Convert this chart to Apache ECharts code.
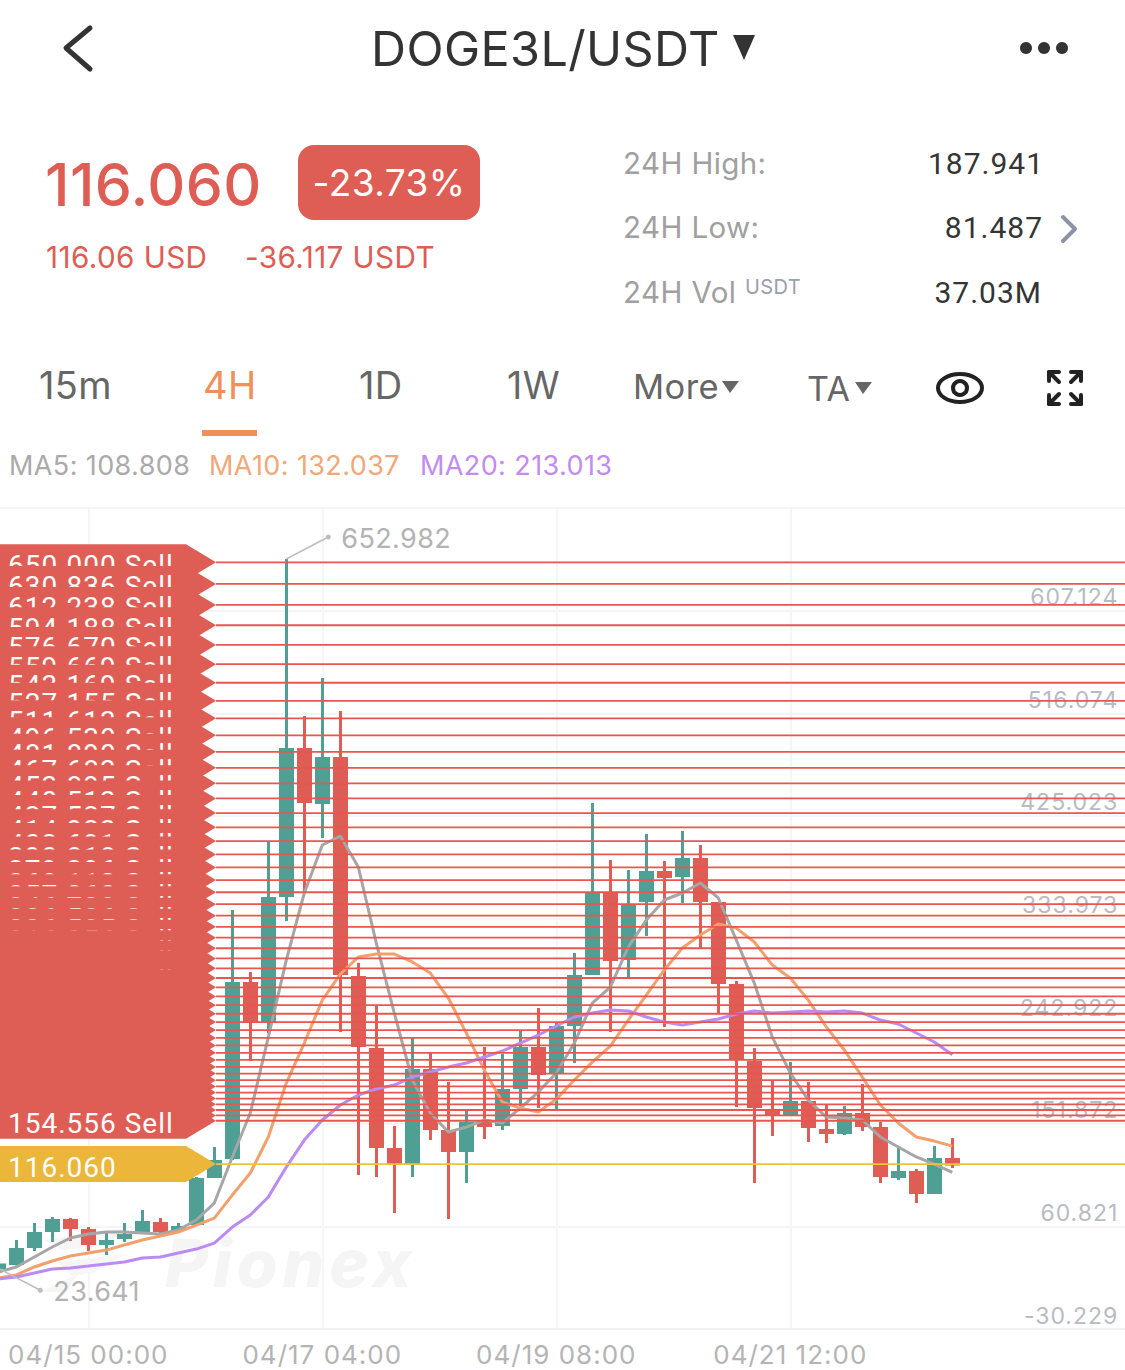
<!DOCTYPE html>
<html><head><meta charset="utf-8">
<style>html,body{margin:0;padding:0;background:#fff}#c{width:1125px;height:1370px}
#c text{letter-spacing:.4px}
#c text[fill="#b4b4b4"],#c text[fill="#b7bbc3"],#c text[fill="#fefefe"],#c text[fill="#343434"]{letter-spacing:1px}
#c text[fill="#f5f5f5"]{letter-spacing:5px}
</style>
<script src="https://cdn.jsdelivr.net/npm/echarts@6/dist/echarts.min.js"></script>
</head><body><div id="c"></div>
<script>
const categories = [
'04/14 04:00','04/14 08:00','04/14 12:00','04/14 16:00','04/14 20:00',
'04/15 00:00','04/15 04:00','04/15 08:00','04/15 12:00','04/15 16:00','04/15 20:00',
'04/16 00:00','04/16 04:00','04/16 08:00','04/16 12:00','04/16 16:00','04/16 20:00',
'04/17 00:00','04/17 04:00','04/17 08:00','04/17 12:00','04/17 16:00','04/17 20:00',
'04/18 00:00','04/18 04:00','04/18 08:00','04/18 12:00','04/18 16:00','04/18 20:00',
'04/19 00:00','04/19 04:00','04/19 08:00','04/19 12:00','04/19 16:00','04/19 20:00',
'04/20 00:00','04/20 04:00','04/20 08:00','04/20 12:00','04/20 16:00','04/20 20:00',
'04/21 00:00','04/21 04:00','04/21 08:00','04/21 12:00','04/21 16:00','04/21 20:00',
'04/22 00:00','04/22 04:00','04/22 08:00','04/22 12:00','04/22 16:00','04/22 20:00',
'04/23 00:00','04/23 04:00','04/23 08:00','04/23 12:00','04/23 16:00','04/23 20:00',
'04/24 00:00','04/24 04:00','04/24 08:00','04/24 12:00','04/24 16:00'];
const xTickLabels = ['04/15 00:00','04/17 04:00','04/19 08:00','04/21 12:00'];
const yTickLabels = ['-30.229','60.821','151.872','242.922','333.973','425.023','516.074','607.124'];
const yMin = -30.229, yMax = 698.2;
// open, close, low, high
const candles = [
[24.2,26.5,23.641,29.2],[27.9,40.3,26.1,48.7],[42.9,54.5,39.0,63.8],[57.1,66.0,46.9,69.1],[66.0,59.8,47.8,68.2],
[57.1,45.6,39.0,60.2],[45.6,47.4,35.4,56.7],[50.9,52.7,46.9,63.8],[57.1,64.2,55.8,75.3],[63.3,57.1,53.1,68.2],
[58.0,59.8,54.9,63.8],[63.3,102.4,61.1,104.6],[105.1,118.4,103.7,131.2],[121.9,276.3,119.7,341.5],[276.3,243.5,207.5,286.5],
[243.5,351.7,232.4,402.7],[354.4,483.9,331.7,652.982],[483.9,437.8,357.5,513.6],[436.9,475.9,405.4,547.3],[475.9,285.2,233.3,518.1],
[281.6,221.3,106.4,294.5],[217.7,131.7,104.6,256.3],[129.0,117.5,72.7,149.9],[117.5,199.1,104.6,228.8],[199.1,147.6,137.4,214.6],
[145.0,128.1,67.3,188.9],[128.1,152.1,99.3,164.1],[153.0,150.3,138.3,219.9],[151.2,181.4,146.3,213.7],[184.0,218.6,167.6,234.1],
[218.6,196.4,165.8,254.6],[197.3,237.3,164.9,241.2],[239.9,282.5,205.8,303.4],[285.2,355.3,283.8,436.4],[356.1,297.6,233.3,385.9],
[298.5,345.5,282.1,377.0],[349.9,374.8,318.4,408.9],[374.8,371.2,237.7,385.0],[372.1,386.3,347.7,411.6],[386.3,349.9,307.8,399.2],
[347.3,277.2,250.1,348.6],[274.5,209.7,166.7,278.5],[206.2,167.2,99.3,219.1],[163.6,161.0,141.0,190.7],[161.0,170.7,159.6,206.6],
[170.7,149.4,135.7,188.9],[145.9,144.1,134.8,168.5],[144.1,160.1,141.9,167.6],[160.1,150.3,145.4,187.1],[147.6,105.9,99.3,153.4],
[105.1,108.6,101.9,130.3],[108.6,90.9,81.487,111.7],[90.9,120.1,89.5,132.1],[120.1,116.06,112.6,139.2]];
const ma5 = [20.3,24.8,33.6,42.5,50.5,54.0,55.8,55.8,54.9,54.0,57.6,66.5,81.5,122.4,161.4,228.8,297.1,356.6,399.2,407.1,379.7,312.2,250.1,190.7,161.4,144.5,148.9,155.2,152.5,165.8,180.0,196.9,223.5,259.0,273.2,308.7,332.6,350.4,356.6,365.5,352.2,314.9,276.7,228.8,196.9,172.9,157.8,156.9,155.2,140.1,131.2,122.4,116.1,108.808];
const ma10 = [15.0,17.7,24.8,30.1,34.5,37.2,39.8,44.3,48.7,52.3,55.8,62.0,68.2,88.6,108.2,140.1,188.0,223.5,261.6,284.7,299.8,302.4,302.4,295.4,285.6,263.4,232.4,199.5,171.2,165.8,162.3,173.7,190.7,206.6,220.8,243.9,266.1,288.3,307.8,319.3,329.1,325.5,313.1,292.7,281.2,261.6,237.7,217.3,193.3,168.5,152.5,140.1,136.5,132.037];
const ma20 = [14.1,15.9,19.4,23.0,23.9,25.6,27.4,29.2,32.7,33.6,37.2,40.7,46.0,60.2,70.9,86.9,113.5,137.4,155.2,168.5,177.4,182.7,186.2,193.3,197.8,202.2,205.8,211.1,216.4,223.5,230.6,238.6,246.6,250.1,252.8,251.9,246.6,242.1,239.5,242.1,244.8,249.2,251.9,250.1,251.0,251.9,251.0,251.9,250.1,243.9,240.4,232.4,224.4,213.013];
const sellOrders = [650.000,630.836,612.238,594.188,576.670,559.669,543.169,527.155,511.613,496.530,481.890,467.683,453.895,440.513,427.527,414.923,402.691,390.818,379.296,368.113,357.260,346.728,336.506,326.585,316.956,307.612,298.543,289.741,281.199,272.909,264.863,257.054,249.476,242.121,234.983,228.055,221.331,214.806,208.473,202.326,196.361,190.572,184.954,179.501,174.209,169.073,164.088,159.250,154.556];
const lastPrice = [116.060];
const extremes = [[16,652.982,-1],[0,23.641,1]];

const FONT = 'Inter, "Noto Sans", sans-serif';
const NUMFONT = 'Roboto, "Noto Sans", sans-serif';
const RED='#de5d54', TEAL='#4f9f94', GOLD='#ecb63a', ORANGE='#f0905a';
function T(text,x,y,size,fill,align,weight,font){
  return {type:'text',silent:true,z:10,style:{text,x,y:y-1,fill,font:(weight||400)+' '+size+'px '+(font||FONT),
    align:align||'left',textAlign:align||'left',verticalAlign:'middle',textVerticalAlign:'middle'}};
}
function P(points,fill,stroke,w,z){
  return {type:stroke?'polyline':'polygon',silent:true,z:z==null?10:z,shape:{points},
    style:stroke?{stroke,lineWidth:w,fill:null,lineCap:'round',lineJoin:'round'}:{fill}};
}
function C(cx,cy,r,fill,stroke,w){
  return {type:'circle',silent:true,z:10,shape:{cx,cy,r},style:stroke?{fill:'none',stroke,lineWidth:w}:{fill}};
}
const chrome = [
  P([[90,28],[66,48],[90,69]],null,'#333',5),
  T('DOGE3L/USDT',371,49,48.5,'#333'),
  P([[733,35],[755,35],[744,60]],'#333'),
  C(1026,48,6,'#333'),C(1044,48,6,'#333'),C(1062,48,6,'#333'),
  T('116.060',45,185,59,RED,'left',500),
  {type:'rect',silent:true,z:10,shape:{x:298,y:145,width:182,height:75,r:16},style:{fill:RED}},
  T('-23.73%',389,183,37,'#fff','center'),
  T('116.06 USD',46,258,29.7,RED),
  T('-36.117 USDT',245,258,29.7,RED),
  T('24H High:',623,164,29.5,'#a0a0a0'),T('187.941',1044,164,30,'#343434','right',400,NUMFONT),
  T('24H Low:',623,228,29.5,'#a0a0a0'),T('81.487',1043,228,30,'#343434','right',400,NUMFONT),
  P([[1063,217],[1075,229],[1063,241]],null,'#8a93a8',4),
  T('24H Vol',623,293,29.5,'#a0a0a0'),T('USDT',745,288,20,'#9aa0ac'),T('37.03M',1042,293,30,'#343434','right',400,NUMFONT),
  T('15m',39,386,38,'#666'),T('4H',203,386,38,ORANGE),T('1D',359,386,38,'#666'),T('1W',507,386,37.5,'#666'),
  T('More',633,387,34.5,'#666'),P([[722,381],[739,381],[730,393]],'#666'),
  T('TA',807,389,34,'#666'),P([[855,382],[872,382],[863,394]],'#666'),
  {type:'ellipse',silent:true,z:10,shape:{cx:960,cy:388,rx:22,ry:14},style:{fill:'none',stroke:'#222',lineWidth:4}},
  C(960,388,7,null,'#222',4),
  P([[1049,381],[1049,372],[1059,372]],null,'#222',4),P([[1049,372],[1059,382]],null,'#222',4),
  P([[1081,381],[1081,372],[1071,372]],null,'#222',4),P([[1081,372],[1071,382]],null,'#222',4),
  P([[1049,395],[1049,404],[1059,404]],null,'#222',4),P([[1049,404],[1059,394]],null,'#222',4),
  P([[1081,395],[1081,404],[1071,404]],null,'#222',4),P([[1081,404],[1071,394]],null,'#222',4),
  {type:'rect',silent:true,z:10,shape:{x:202,y:430,width:55,height:6},style:{fill:ORANGE}},
  T('MA5: 108.808',9,466,27,'#aaaaaa'),T('MA10: 132.037',209,466,27,'#f0a878'),T('MA20: 213.013',420,466,27,'#c08cf0'),
  {type:'text',silent:true,z:1,style:{text:'Pionex',x:165,y:1263,fill:'#f5f5f5',font:'italic 800 66px '+FONT,
    align:'left',textAlign:'left',verticalAlign:'middle',textVerticalAlign:'middle'}},
  P([[44,1240],[128,1228],[100,1246],[62,1250]],'#f6f6f6',null,0,1),
  P([[58,1262],[125,1254],[95,1272],[72,1276]],'#f6f6f6',null,0,1),
  P([[40,1292],[78,1274],[66,1292]],'#f6f6f6',null,0,1)
];

function tag(y,label,fill,lineColor,lw){
  return {type:'group',children:[
    {type:'line',shape:{x1:216,y1:y,x2:1125,y2:y},style:{stroke:lineColor,lineWidth:lw}},
    {type:'polygon',shape:{points:[[0,y-18],[186,y-18],[216,y],[186,y+18],[0,y+18]]},style:{fill}},
    {type:'text',style:{text:label,x:8,y:y+3,fill:'#fefefe',font:'400 28px '+NUMFONT,
      align:'left',textAlign:'left',verticalAlign:'middle',textVerticalAlign:'middle'}}
  ]};
}

const chart = echarts.init(document.getElementById('c'),null,{renderer:'svg',width:1125,height:1370});
chart.setOption({
  animation:false,
  backgroundColor:'#fff',
  graphic:{elements:chrome},
  grid:{left:-1.7,top:508,width:18*63,height:821,outerBoundsMode:'none',containLabel:false},
  xAxis:{type:'category',data:categories,boundaryGap:false,
    axisLine:{show:true,onZero:false,lineStyle:{color:'#f0f0f0',width:2}},axisTick:{show:false},
    axisLabel:{interval:(i,v)=>xTickLabels.includes(v),color:'#b4b4b4',fontSize:26,fontFamily:FONT,margin:12,hideOverlap:false},
    splitLine:{show:true,interval:(i,v)=>xTickLabels.includes(v),lineStyle:{color:'#f2f2f2',width:1.5}}},
  yAxis:{type:'value',position:'right',min:yMin,max:yMax,scale:true,
    axisLine:{show:false},
    axisTick:{show:false,customValues:yTickLabels.map(Number).concat([yMax])},
    axisLabel:{inside:true,margin:14,customValues:yTickLabels.map(Number),formatter:v=>v.toFixed(3),
      color:'#b7bbc3',fontSize:23,fontFamily:FONT,verticalAlign:'bottom',align:'right',lineHeight:27},
    splitLine:{show:true,lineStyle:{color:'#f2f2f2',width:1.5}}},
  series:[
    {type:'candlestick',data:candles,barWidth:12,z:2,silent:true,clip:false,
      itemStyle:{color:TEAL,color0:RED,borderColor:TEAL,borderColor0:RED,borderWidth:3}},
    {type:'line',name:'MA5',data:ma5,z:3,symbol:'none',silent:true,lineStyle:{color:'#a6a6a6',width:3}},
    {type:'line',name:'MA10',data:ma10,z:3,symbol:'none',silent:true,lineStyle:{color:'#f2a06c',width:3}},
    {type:'line',name:'MA20',data:ma20,z:3,symbol:'none',silent:true,lineStyle:{color:'#bb8af5',width:3}},
    {type:'custom',name:'Sell orders',z:4,silent:true,clip:false,encode:{x:0,y:1},
      data:sellOrders.map(p=>[0,p]),
      renderItem:(p,api)=>{const v=api.value(1);return tag(api.coord([0,v])[1],v.toFixed(3)+' Sell',RED,'#e8564f',1.8);}},
    {type:'custom',name:'Last price',z:4,silent:true,clip:false,encode:{x:0,y:1},
      data:lastPrice.map(p=>[0,p]),
      renderItem:(p,api)=>{const v=api.value(1);return tag(api.coord([0,v])[1],v.toFixed(3),GOLD,'#f0c23f',1.8);}},
    {type:'custom',name:'Extremes',z:5,silent:true,clip:false,encode:{x:0,y:1},
      data:extremes,
      renderItem:(p,api)=>{
        const v=api.value(1),dir=api.value(2),c=api.coord([api.value(0),v]),
              ex=c[0]+42,ey=c[1]+dir*22;
        return {type:'group',children:[
          {type:'line',shape:{x1:c[0],y1:c[1],x2:ex,y2:ey},style:{stroke:'#bdbdbd',lineWidth:1.5}},
          {type:'circle',shape:{cx:ex,cy:ey,r:2.5},style:{fill:'#bdbdbd'}},
          {type:'text',style:{text:v.toFixed(3),x:c[0]+55,y:ey+1.5,fill:'#b3b3b3',font:'400 27px '+FONT,
            align:'left',textAlign:'left',verticalAlign:'middle',textVerticalAlign:'middle'}}
        ]};
      }}
  ]
});
</script></body></html>
